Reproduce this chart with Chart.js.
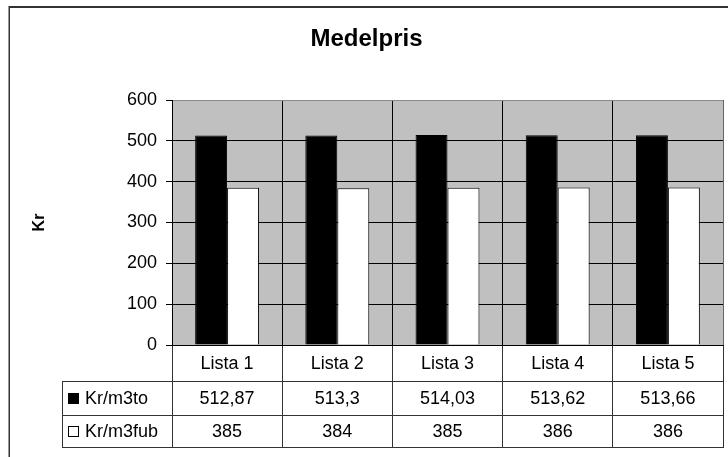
<!DOCTYPE html>
<html>
<head>
<meta charset="utf-8">
<script src="https://cdn.jsdelivr.net/npm/chart.js@4/dist/chart.umd.min.js"></script>
<style>
  html, body { margin: 0; padding: 0; background: #ffffff; }
  #wrap { width: 728px; height: 457px; position: relative; }
</style>
</head>
<body>
<div id="wrap"><canvas id="c" width="728" height="457"></canvas></div>
<script>
// Average prices per list
const categories = ['Lista 1', 'Lista 2', 'Lista 3', 'Lista 4', 'Lista 5'];
const seriesNames = ['Kr/m3to', 'Kr/m3fub'];
const krPerM3to = [512.87, 513.3, 514.03, 513.62, 513.66];
const krPerM3fub = [385, 384, 385, 386, 386];
const yTicks = [0, 100, 200, 300, 400, 500, 600];

const FONT = '"Liberation Sans", Arial, sans-serif';
const TXT = 18;

// Swedish number format with decimal comma
const fmt = v => String(v).replace('.', ',');

// Outer frame and grey plot background
const framePlugin = {
  id: 'frame',
  beforeDraw(chart) {
    const ctx = chart.ctx;
    const a = chart.chartArea;
    ctx.save();
    ctx.fillStyle = '#ffffff';
    ctx.fillRect(0, 0, chart.width, chart.height);
    ctx.fillStyle = '#c0c0c0';
    ctx.fillRect(a.left, a.top, a.right - a.left, a.bottom - a.top);
    ctx.strokeStyle = '#333333';
    ctx.lineWidth = 2;
    ctx.beginPath();
    ctx.moveTo(9, 7);
    ctx.lineTo(chart.width, 7);
    ctx.stroke();
    ctx.lineWidth = 1.5;
    ctx.beginPath();
    ctx.moveTo(9.25, 6);
    ctx.lineTo(9.25, chart.height);
    ctx.stroke();
    ctx.restore();
  }
};

// Data table under the plot: category row, then one row per series with legend key
const tablePlugin = {
  id: 'dataTable',
  afterDraw(chart) {
    const ctx = chart.ctx;
    const a = chart.chartArea;
    const xs = chart.scales.x;
    const rowTops = [a.bottom, a.bottom + 36, a.bottom + 70, a.bottom + 102];
    const legLeft = 62;
    const right = a.right + 1;
    ctx.save();
    ctx.strokeStyle = '#333333';
    ctx.lineWidth = 1;
    ctx.beginPath();
    for (let r = 1; r < rowTops.length; r++) {
      const y = Math.round(rowTops[r]) + 0.5;
      ctx.moveTo(legLeft, y);
      ctx.lineTo(right, y);
    }
    ctx.moveTo(legLeft + 0.5, Math.round(rowTops[1]) + 0.5);
    ctx.lineTo(legLeft + 0.5, Math.round(rowTops[3]) + 0.5);
    ctx.stroke();

    ctx.fillStyle = '#000000';
    ctx.font = TXT + 'px ' + FONT;
    ctx.textAlign = 'center';
    ctx.textBaseline = 'middle';
    const rows = [categories, krPerM3to.map(fmt), krPerM3fub.map(fmt)];
    rows.forEach((cells, r) => {
      const yc = (rowTops[r] + rowTops[r + 1]) / 2 + 1;
      cells.forEach((t, i) => {
        ctx.fillText(t, xs.getPixelForValue(i), yc);
      });
    });

    // legend keys
    const keyFill = ['#000000', '#ffffff'];
    ctx.textAlign = 'left';
    seriesNames.forEach((name, s) => {
      const yc = (rowTops[s + 1] + rowTops[s + 2]) / 2;
      ctx.fillStyle = keyFill[s];
      ctx.fillRect(68, Math.round(yc) - 5, 11, 11);
      ctx.strokeStyle = '#000000';
      ctx.strokeRect(68.5, Math.round(yc) - 4.5, 10, 10);
      ctx.fillStyle = '#000000';
      ctx.fillText(name, 85, yc + 1);
    });
    ctx.restore();
  }
};

new Chart(document.getElementById('c'), {
  type: 'bar',
  data: {
    labels: categories,
    datasets: [
      {
        label: seriesNames[0],
        data: krPerM3to,
        backgroundColor: '#000000',
        borderColor: '#000000',
        borderWidth: 1
      },
      {
        label: seriesNames[1],
        data: krPerM3fub,
        backgroundColor: '#ffffff',
        borderColor: '#000000',
        borderWidth: 1
      }
    ]
  },
  options: {
    responsive: false,
    devicePixelRatio: 1,
    animation: false,
    layout: { padding: { top: 8, left: 10, right: 5, bottom: 10 } },
    datasets: { bar: { categoryPercentage: 0.58, barPercentage: 1.0 } },
    plugins: {
      legend: { display: false },
      tooltip: { enabled: false },
      title: {
        display: true,
        text: 'Medelpris',
        color: '#000000',
        font: { family: FONT, size: 24, weight: 'bold' },
        padding: { top: 16.6, bottom: 46.6 }
      }
    },
    scales: {
      x: {
        offset: true,
        ticks: { display: false },
        grid: {
          offset: true,
          drawTicks: true,
          tickLength: 102,
          lineWidth: 1,
          color: c => (c.type === 'tick' ? '#000000' : '#666666'),
          tickColor: '#333333'
        },
        border: { display: true, color: '#000000', width: 1 },
        afterFit: s => { s.height = 102; }
      },
      y: {
        min: 0,
        max: 600,
        afterBuildTicks: s => { s.ticks = yTicks.map(v => ({ value: v })); },
        ticks: {
          color: '#000000',
          padding: 9,
          font: { family: FONT, size: TXT }
        },
        grid: {
          drawTicks: true,
          tickLength: 6,
          lineWidth: 1,
          color: c => (c.tick && c.tick.value === 600 ? '#8a8a8a' : '#000000'),
          tickColor: '#000000'
        },
        border: { display: true, color: '#000000', width: 1 },
        title: {
          display: true,
          text: 'Kr',
          color: '#000000',
          font: { family: FONT, size: 16, weight: 'bold' },
          padding: { top: 20, bottom: 0 }
        },
        afterFit: s => { s.width = 162; }
      }
    }
  },
  plugins: [framePlugin, tablePlugin]
});
</script>
</body>
</html>
